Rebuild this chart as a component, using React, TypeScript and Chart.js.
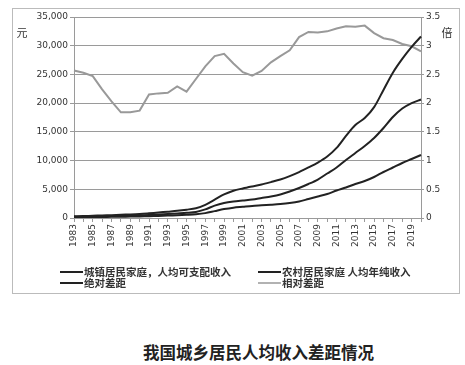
import React, { useEffect, useRef } from "react";
import { Chart, registerables } from "chart.js";

Chart.register(...registerables);

const years = [
  "1983", "1984", "1985", "1986", "1987", "1988", "1989", "1990", "1991", "1992",
  "1993", "1994", "1995", "1996", "1997", "1998", "1999", "2000", "2001", "2002",
  "2003", "2004", "2005", "2006", "2007", "2008", "2009", "2010", "2011", "2012",
  "2013", "2014", "2015", "2016", "2017", "2018", "2019", "2020",
];

const urbanIncome = [
  300, 330, 400, 450, 500, 560, 620, 700, 820, 950,
  1100, 1250, 1450, 1700, 2300, 3200, 4100, 4750, 5150, 5500,
  5830, 6250, 6700, 7300, 8000, 8800, 9650, 10700, 12200, 14300,
  16200, 17400, 19300, 22300, 25300, 27700, 29800, 31600,
];

const ruralIncome = [
  120, 140, 160, 180, 200, 220, 250, 280, 320, 360,
  420, 480, 560, 660, 850, 1200, 1550, 1800, 1950, 2100,
  2200, 2300, 2420, 2600, 2870, 3310, 3740, 4180, 4790, 5310,
  5920, 6440, 7140, 8010, 8790, 9580, 10270, 10970,
];

const absoluteGap = [
  200, 220, 260, 300, 330, 370, 410, 460, 530, 610,
  700, 800, 900, 1050, 1500, 2150, 2600, 2870, 3050, 3220,
  3480, 3740, 4090, 4610, 5220, 5920, 6700, 7750, 8790, 10100,
  11320, 12540, 13930, 15670, 17580, 19060, 20020, 20630,
];

const relativeGap = [
  2.57, 2.53, 2.47, 2.24, 2.03, 1.84, 1.84, 1.87, 2.15, 2.17,
  2.18, 2.29, 2.2, 2.42, 2.64, 2.82, 2.86, 2.69, 2.54, 2.48,
  2.56, 2.71, 2.82, 2.92, 3.15, 3.24, 3.23, 3.25, 3.3, 3.34,
  3.33, 3.35, 3.22, 3.13, 3.1, 3.03, 2.99, 2.9,
];

const seriesNames = [
  "城镇居民家庭，人均可支配收入",
  "农村居民家庭 人均年纯收入",
  "绝对差距",
  "相对差距",
];

const leftUnit = "元";
const rightUnit = "倍";
const chartTitle = "我国城乡居民人均收入差距情况";

const GRID = "#9a9a9a";
const TEXT = "#333";
const TICK_FONT = { family: "DejaVu Sans", size: 9 };

const overlayPlugin = {
  id: "overlay",
  afterDraw(chart: any) {
    const ctx = chart.ctx;
    ctx.save();
    ctx.fillStyle = TEXT;
    ctx.font = '11px "Noto Sans CJK SC"';
    ctx.textAlign = "center";
    ctx.textBaseline = "middle";
    ctx.fillText(leftUnit, 9, 24);
    ctx.fillText(rightUnit, 434, 24);

    const pos = [
      [47, 263],
      [245, 263],
      [47, 274],
      [245, 274],
    ];
    chart.data.datasets.forEach((ds: any, i: number) => {
      const [x, y] = pos[i];
      ctx.strokeStyle = ds.borderColor;
      ctx.lineWidth = i === 3 ? 1.5 : 2;
      ctx.beginPath();
      ctx.moveTo(x, y);
      ctx.lineTo(x + 23, y);
      ctx.stroke();
      ctx.fillStyle = TEXT;
      ctx.textAlign = "left";
      ctx.font = 'bold 10.5px "Noto Sans CJK SC"';
      ctx.fillText(ds.label, x + 24, y);
    });
    ctx.restore();
  },
};

export default function App() {
  const ref = useRef<HTMLCanvasElement | null>(null);

  useEffect(() => {
    if (!ref.current) return;
    const chart = new Chart(ref.current, {
      type: "line",
      data: {
        labels: years,
        datasets: [
          {
            label: seriesNames[0],
            data: urbanIncome,
            borderColor: "#222",
            borderWidth: 2,
            pointRadius: 0,
            tension: 0.3,
            yAxisID: "y",
          },
          {
            label: seriesNames[1],
            data: ruralIncome,
            borderColor: "#222",
            borderWidth: 2,
            pointRadius: 0,
            tension: 0.3,
            yAxisID: "y",
          },
          {
            label: seriesNames[2],
            data: absoluteGap,
            borderColor: "#222",
            borderWidth: 2,
            pointRadius: 0,
            tension: 0.3,
            yAxisID: "y",
          },
          {
            label: seriesNames[3],
            data: relativeGap,
            borderColor: "#999",
            borderWidth: 2,
            pointRadius: 0,
            tension: 0,
            yAxisID: "y1",
          },
        ],
      },
      options: {
        responsive: false,
        animation: false,
        devicePixelRatio: 1,
        layout: { padding: { top: 8, left: 0, right: 0, bottom: 40 } },
        plugins: {
          legend: { display: false },
          tooltip: { enabled: false },
        },
        scales: {
          x: {
            type: "category",
            offset: false,
            grid: {
              display: true,
              drawOnChartArea: false,
              drawTicks: true,
              tickLength: 4,
              color: GRID,
            },
            border: { display: true, color: GRID },
            ticks: {
              autoSkip: false,
              maxRotation: 90,
              minRotation: 90,
              padding: 2,
              color: TEXT,
              font: TICK_FONT,
              callback: (_v: any, i: number) => (i % 2 === 0 ? years[i] : ""),
            },
            afterFit: (s: any) => {
              s.height = 35;
            },
          },
          y: {
            position: "left",
            min: 0,
            max: 35000,
            grid: { color: GRID, tickLength: 4 },
            border: { display: true, color: GRID },
            ticks: {
              stepSize: 5000,
              padding: 2,
              color: TEXT,
              font: TICK_FONT,
              callback: (v: any) => Number(v).toLocaleString("en-US"),
            },
            afterFit: (s: any) => {
              s.width = 61;
            },
          },
          y1: {
            position: "right",
            min: 0,
            max: 3.5,
            grid: { drawOnChartArea: false, tickLength: 3, color: GRID },
            border: { display: true, color: GRID },
            ticks: {
              stepSize: 0.5,
              padding: 2,
              color: TEXT,
              font: TICK_FONT,
              callback: (v: any) => String(v),
            },
            afterFit: (s: any) => {
              s.width = 38;
            },
          },
        },
      },
      plugins: [overlayPlugin],
    } as any);
    return () => chart.destroy();
  }, []);

  return (
    <div>
      <div
        style={{
          position: "absolute",
          left: 12,
          top: 8,
          width: 446,
          height: 284,
          border: "1px solid #bbb",
          background: "#fff",
        }}
      >
        <canvas ref={ref} width={446} height={284} style={{ display: "block" }} />
      </div>
      <div
        style={{
          position: "absolute",
          left: 143,
          top: 344,
          fontFamily: '"Noto Sans CJK SC"',
          fontWeight: "bold",
          fontSize: "16.5px",
          lineHeight: 1,
          whiteSpace: "nowrap",
          color: "#222",
        }}
      >
        {chartTitle}
      </div>
    </div>
  );
}
